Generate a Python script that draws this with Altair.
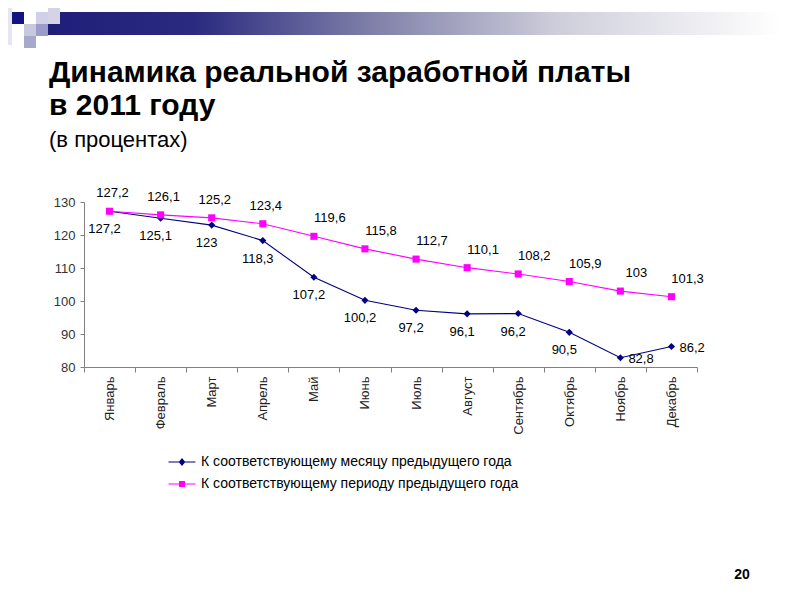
import altair as alt
import pandas as pd

FONT = "Liberation Sans"

months = ["Январь", "Февраль", "Март", "Апрель", "Май", "Июнь", "Июль",
          "Август", "Сентябрь", "Октябрь", "Ноябрь", "Декабрь"]
monthly = [127.2, 125.1, 123, 118.3, 107.2, 100.2, 97.2, 96.1, 96.2, 90.5, 82.8, 86.2]
cumulative = [127.2, 126.1, 125.2, 123.4, 119.6, 115.8, 112.7, 110.1, 108.2, 105.9, 103, 101.3]
series_names = ["К соответствующему месяцу предыдущего года",
                "К соответствующему периоду предыдущего года"]
colors = ["#000080", "#FF00FF"]
y_ticks = [80, 90, 100, 110, 120, 130]
title_lines = ["Динамика реальной заработной платы", "в 2011 году"]
subtitle = "(в процентах)"


def fmt(v):
    return f"{v:g}".replace(".", ",")


rows = []
for i, m in enumerate(months):
    for s, vals in enumerate([monthly, cumulative]):
        rows.append(dict(month=m, idx=i, sidx=s, series=series_names[s],
                         value=vals[i], label=fmt(vals[i])))
df = pd.DataFrame(rows)

axis_gray = "#808080"
x_enc = alt.X("month:N", sort=months,
              scale=alt.Scale(type="band", paddingInner=0, paddingOuter=0),
              axis=alt.Axis(title=None, labelAngle=270, tickBand="extent",
                            labelFont=FONT, labelFontSize=13, labelColor="#222222",
                            tickSize=5, labelPadding=4, domainColor=axis_gray,
                            tickColor=axis_gray))
y_enc = alt.Y("value:Q", scale=alt.Scale(domain=[80, 130], nice=False, zero=False),
              axis=alt.Axis(title=None, values=y_ticks, grid=False, labelFont=FONT,
                            labelFontSize=13, labelColor="#333333", tickSize=4,
                            labelPadding=5, domainColor=axis_gray, tickColor=axis_gray))

base = alt.Chart(df).encode(x=x_enc, y=y_enc)

color_plain = alt.Color("series:N", scale=alt.Scale(domain=series_names, range=colors),
                        legend=None)

lines = base.mark_line(strokeWidth=1.1).encode(color=color_plain)
markers = base.mark_point(filled=True, opacity=1, size=50).encode(
    color=color_plain,
    shape=alt.Shape("series:N", scale=alt.Scale(domain=series_names,
                                                 range=["diamond", "square"]),
                    legend=None))

path_diamond = "M-4.5,-0.17L4.5,-0.17L4.5,0.17L-4.5,0.17Z M0,-1.3L1.1,0L0,1.3L-1.1,0Z"
path_square = "M-4.5,-0.17L4.5,-0.17L4.5,0.17L-4.5,0.17Z M-1,-1L1,-1L1,1L-1,1Z"

leg = alt.Legend(orient="none", legendX=91, legendY=253, title=None, labelFont=FONT,
                 labelFontSize=14, labelColor="#000000", symbolStrokeWidth=0,
                 symbolSize=36, labelOffset=12, rowPadding=8, padding=0,
                 direction="vertical", symbolOpacity=1, labelLimit=500)

legend_layer = base.transform_filter("false").mark_point(filled=True, opacity=1, size=36).encode(
    color=alt.Color("series:N", scale=alt.Scale(domain=series_names, range=colors), legend=leg),
    shape=alt.Shape("series:N", scale=alt.Scale(domain=series_names,
                                                 range=[path_diamond, path_square]),
                    legend=leg))

txt = dict(font=FONT, fontSize=13, color="#000000")
blue_labels = base.transform_filter("datum.sidx == 0 && datum.idx < 10").mark_text(
    dy=18, dx=-5, **txt).encode(text="label:N")
blue_end = base.transform_filter("datum.sidx == 0 && datum.idx >= 10").mark_text(
    dy=1, dx=8, align="left", **txt).encode(text="label:N")
pink_early = base.transform_filter("datum.sidx == 1 && datum.idx < 4").mark_text(
    dy=-18, dx=3, **txt).encode(text="label:N")
pink_late = base.transform_filter("datum.sidx == 1 && datum.idx >= 4").mark_text(
    dy=-18, dx=16, **txt).encode(text="label:N")

# slide decoration and titles
deco_df = pd.DataFrame({"k": [0]})
deco = alt.Chart(deco_df)
bar = deco.mark_rect(color=alt.Gradient(
    gradient="linear", x1=0, x2=1, y1=0, y2=0,
    stops=[alt.GradientStop(offset=0, color="#1f1f7a"),
           alt.GradientStop(offset=0.2, color="#2a2a80"),
           alt.GradientStop(offset=0.45, color="#8282aa"),
           alt.GradientStop(offset=0.7, color="#cfcfdc"),
           alt.GradientStop(offset=0.95, color="#f7f7f9"),
           alt.GradientStop(offset=1, color="#ffffff")])).encode(
    x=alt.value(-36), x2=alt.value(696), y=alt.value(-190), y2=alt.value(-167))


def sq(x0, y0, x1, y1, c):
    return deco.mark_rect(color=c).encode(x=alt.value(x0), x2=alt.value(x1),
                                          y=alt.value(y0), y2=alt.value(y1))


squares = [
    sq(-84, -202, -72, -157, "#e6e6f2"),
    sq(-72, -190, -60, -178, "#141480"),
    sq(-48, -190, -36, -178, "#d0d0e6"),
    sq(-36, -202, -24, -178, "#d4d4e6"),
    sq(-60, -178, -48, -166, "#c8c8e0"),
    sq(-48, -178, -36, -166, "#9c9cc8"),
    sq(-60, -166, -48, -154, "#a8a8cc"),
]
title_kw = dict(font=FONT, fontSize=30, fontWeight="bold", color="#000000",
                align="left", baseline="alphabetic")
t1 = deco.mark_text(text=title_lines[0], **title_kw).encode(x=alt.value(-35), y=alt.value(-120))
t2 = deco.mark_text(text=title_lines[1], **title_kw).encode(x=alt.value(-35), y=alt.value(-87))
t3 = deco.mark_text(text=subtitle, font=FONT, fontSize=22, color="#000000", align="left",
                    baseline="alphabetic").encode(x=alt.value(-35), y=alt.value(-55))
page_num = deco.mark_text(text="20", font=FONT, fontSize=14, fontWeight="bold",
                          color="#000000").encode(x=alt.value(658), y=alt.value(373))

chart = alt.layer(
    bar, *squares, t1, t2, t3, lines, markers, legend_layer,
    blue_labels, blue_end, pink_early, pink_late, page_num
).resolve_scale(color="independent", shape="independent").properties(
    width=613, height=165,
    autosize=alt.AutoSizeParams(type="none"),
    padding={"left": 76, "top": 194, "right": 90, "bottom": 220},
    background="#ffffff",
).configure_view(stroke=None)

chart.save("out.html", embed_options={"renderer": "svg", "actions": False})
